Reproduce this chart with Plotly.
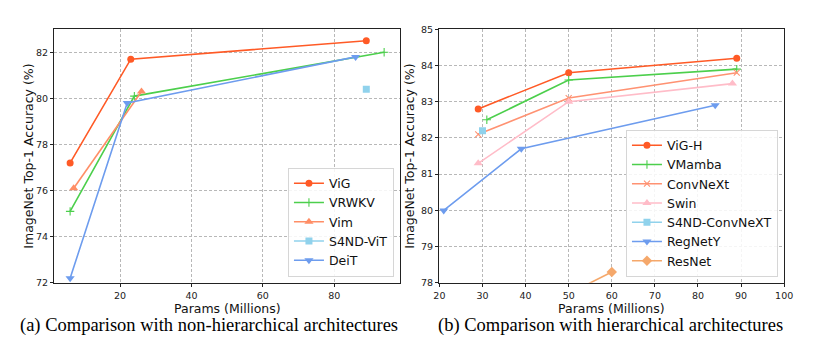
import plotly.graph_objects as go

# ---- (a) non-hierarchical architectures ----
vig_x = [6, 23, 89]
vig_y = [77.2, 81.7, 82.5]
vrwkv_x = [6, 24, 94]
vrwkv_y = [75.1, 80.1, 82.0]
vim_x = [7, 26]
vim_y = [76.1, 80.3]
s4nd_vit_x = [89]
s4nd_vit_y = [80.4]
deit_x = [6, 22, 86]
deit_y = [72.2, 79.8, 81.8]

# ---- (b) hierarchical architectures ----
vigh_x = [29, 50, 89]
vigh_y = [82.8, 83.8, 84.2]
vmamba_x = [31, 50, 89]
vmamba_y = [82.5, 83.6, 83.9]
convnext_x = [29, 50, 89]
convnext_y = [82.1, 83.1, 83.8]
swin_x = [29, 50, 88]
swin_y = [81.3, 83.0, 83.5]
s4nd_convnext_x = [30]
s4nd_convnext_y = [82.2]
regnety_x = [21, 39, 84]
regnety_y = [80.0, 81.7, 82.9]
resnet_x = [25, 45, 60]
resnet_y = [76.2, 77.4, 78.3]

C_VIG = "#FF5A26"
C_GREEN = "#4CCF4C"
C_VIM = "#FF8E66"
C_SKY = "#90D2EC"
C_BLUE = "#6D9CEE"
C_CONV = "#FF9272"
C_SWIN = "#FFBCC8"
C_RES = "#F5A86B"

FONT = "DejaVu Sans"
W, H = 840, 344


def px_x(p):
    return p / W


def px_y(p):
    return 1 - p / H


fig = go.Figure()


def add(x, y, name, color, symbol, size, xa, ya, legend, mline=False):
    marker = dict(color=color, symbol=symbol, size=size)
    if mline:
        marker["line"] = dict(color=color, width=1.1)
    fig.add_trace(go.Scatter(
        x=x, y=y, name=name, mode="lines+markers",
        line=dict(color=color, width=1.6), marker=marker,
        xaxis=xa, yaxis=ya, legend=legend, cliponaxis=True,
    ))


add(vig_x, vig_y, "ViG", C_VIG, "circle", 7, "x", "y", "legend")
add(vrwkv_x, vrwkv_y, "VRWKV", C_GREEN, "cross-thin", 6, "x", "y", "legend", True)
add(vim_x, vim_y, "Vim", C_VIM, "triangle-up", 8, "x", "y", "legend")
add(s4nd_vit_x, s4nd_vit_y, "S4ND-ViT", C_SKY, "square", 7, "x", "y", "legend")
add(deit_x, deit_y, "DeiT", C_BLUE, "triangle-down", 8, "x", "y", "legend")

add(vigh_x, vigh_y, "ViG-H", C_VIG, "circle", 7, "x2", "y2", "legend2")
add(vmamba_x, vmamba_y, "VMamba", C_GREEN, "cross-thin", 6, "x2", "y2", "legend2", True)
add(convnext_x, convnext_y, "ConvNeXt", C_CONV, "x-thin", 6, "x2", "y2", "legend2", True)
add(swin_x, swin_y, "Swin", C_SWIN, "triangle-up", 8, "x2", "y2", "legend2")
add(s4nd_convnext_x, s4nd_convnext_y, "S4ND-ConvNeXT", C_SKY, "square", 7, "x2", "y2", "legend2")
add(regnety_x, regnety_y, "RegNetY", C_BLUE, "triangle-down", 8, "x2", "y2", "legend2")
add(resnet_x, resnet_y, "ResNet", C_RES, "diamond", 8, "x2", "y2", "legend2")

axis_common = dict(
    showline=True, mirror=True, linecolor="#222", linewidth=1,
    ticks="outside", ticklen=3.5, tickcolor="#222", tickwidth=1,
    showgrid=True, gridcolor="#b8b8b8", gridwidth=0.8, griddash="3px,2px",
    zeroline=False, tickfont=dict(family=FONT, size=9.5, color="#222"),
)

y_dom = [px_y(286), px_y(24)]

legend_common = dict(
    xanchor="right", yanchor="bottom",
    bgcolor="rgba(255,255,255,0.85)", bordercolor="#d6d6d6", borderwidth=1,
    font=dict(family=FONT, size=12.5, color="#111"),
    tracegroupgap=0, itemwidth=30,
)

fig.update_layout(
    width=W, height=H,
    margin=dict(l=0, r=0, t=0, b=0),
    paper_bgcolor="white", plot_bgcolor="white",
    font=dict(family=FONT, color="#222"),
    xaxis=dict(domain=[px_x(49.3), px_x(401)], range=[1.6, 98.4],
               tickvals=[20, 40, 60, 80], anchor="y", **axis_common),
    yaxis=dict(domain=y_dom, range=[72, 83],
               tickvals=[72, 74, 76, 78, 80, 82], anchor="x", **axis_common),
    xaxis2=dict(domain=[px_x(441.3), px_x(792.3)], range=[20, 100],
                tickvals=list(range(20, 101, 10)), anchor="y2", **axis_common),
    yaxis2=dict(domain=y_dom, range=[78, 85],
                tickvals=list(range(78, 86)), anchor="x2", **axis_common),
    legend=dict(x=px_x(395), y=px_y(279.5), **legend_common),
    legend2=dict(x=px_x(786), y=px_y(279.5), **legend_common),
    showlegend=True,
)

title_font = dict(family=FONT, size=12.5, color="#111")
caption_font = dict(family="Liberation Serif", size=18.5, color="black")

annotations = [
    # axis titles
    dict(text="Params (Millions)", x=px_x(225.2), y=px_y(312), font=title_font),
    dict(text="Params (Millions)", x=px_x(616.8), y=px_y(312), font=title_font),
    dict(text="ImageNet Top-1 Accuracy (%)", x=px_x(22), y=px_y(155),
         textangle=-90, font=title_font),
    dict(text="ImageNet Top-1 Accuracy (%)", x=px_x(410), y=px_y(155),
         textangle=-90, font=title_font),
    # sub-figure captions
    dict(text="(a) Comparison with non-hierarchical architectures",
         x=px_x(206.5), y=px_y(330), font=caption_font),
    dict(text="(b) Comparison with hierarchical architectures",
         x=px_x(615), y=px_y(330), font=caption_font),
]
for a in annotations:
    a.update(xref="paper", yref="paper", showarrow=False, borderpad=0,
             xanchor="center", yanchor="middle")
fig.update_layout(annotations=annotations)

fig.write_html("out.html")
